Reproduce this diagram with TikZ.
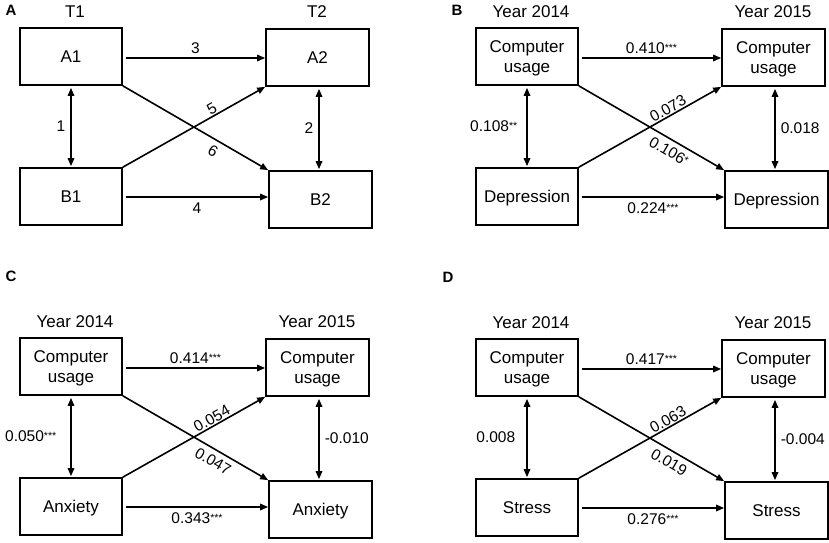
\documentclass[tikz,border=0pt]{standalone}
\usepackage{fontspec}
\setmainfont{Liberation Sans}
\usetikzlibrary{arrows.meta}
\newcommand\stars[1]{\raisebox{2pt}{\fontsize{10.5}{10}\selectfont #1}}
\newcommand\panel[3]{%
\begin{scope}[shift={(#2,#3)}]
 \node[title] (#1t1) at (75,12) {\tA};
 \node[title] (#1t2) at (317,12) {\tB};
 \node[box] (#1tl) at (71,56.5) {\nTL};
 \node[box,minimum width=103pt] (#1tr) at (317.5,57.5) {\nTR};
 \node[box] (#1bl) at (71,196.5) {\nBL};
 \node[box,minimum width=103pt] (#1br) at (320.5,199.5) {\nBR};
 \draw[arr] ([xshift=3pt,yshift=-1.5pt]#1tl.east) -- ([yshift=-1.5pt]#1tl.east -| #1tr.west)
   node[lab,midway,above=3pt] {\lTop};
 \draw[arr] ([xshift=3pt,yshift=-0.5pt]#1bl.east) -- ([yshift=-0.5pt]#1bl.east -| #1br.west)
   node[lab,midway,below=4pt] {\lBot};
 \draw[darr] (#1tl.south) -- (#1bl.north) node[lab,midway,lvl] {\lLeft};
 \draw[darr] ([xshift=1.5pt]#1tr.south) -- ([xshift=1.5pt]#1tr.south |- #1br.north) node[lab,midway,rvl] {\lRight};
 \draw[arr] (#1bl.north east) -- (#1tr.south west) node[lab,pos=0.65,sloped,above=0pt] {\lUp};
 \draw[arr] (#1tl.south east) -- (#1br.north west) node[lab,pos=0.66,sloped,below=4pt] {\lDown};
\end{scope}}
\begin{document}
\begin{tikzpicture}[x=1pt,y=-1pt,
  box/.style={draw, line width=1.7pt, minimum width=102pt, minimum height=57pt,
    inner sep=0pt, align=center, font=\fontsize{17}{20}\selectfont, text depth=-4pt},
  title/.style={font=\fontsize{17}{20}\selectfont, inner sep=0pt},
  lab/.style={font=\fontsize{15.5}{17}\selectfont, inner sep=1pt},
  letter/.style={font=\fontsize{15}{16}\selectfont\bfseries, inner sep=0pt},
  arr/.style={line width=1.6pt, -{Triangle[length=8pt,width=6.5pt]}},
  darr/.style={line width=1.6pt, {Triangle[length=8pt,width=6.5pt]}-{Triangle[length=8pt,width=6.5pt]}, shorten <=2pt, shorten >=1pt},
  lvl/.style={left=6pt}, rvl/.style={right=4pt}]
\useasboundingbox (0,0) rectangle (829,542);
\node[letter] (la) at (11,10) {A};
\node[letter] (lb) at (457,10) {B};
\node[letter] (lc) at (11,276) {C};
\node[letter] (ld) at (448,277) {D};
% Panel A
\begin{scope}[lvl/.style={left=4pt}, rvl/.style={left=4pt}]
\def\tA{T1}\def\tB{T2}\def\nTL{A1}\def\nTR{A2}\def\nBL{B1}\def\nBR{B2}
\def\lTop{3}\def\lBot{4}\def\lLeft{1}\def\lRight{2}\def\lUp{5}\def\lDown{6}
\panel{a}{0}{0}
\end{scope}
% Panel B
\begin{scope}[lvl/.style={left=8pt}]
\def\tA{Year 2014}\def\tB{Year 2015}\def\nTL{Computer\\usage}\def\nTR{Computer\\usage}
\def\nBL{Depression}\def\nBR{Depression}
\def\lTop{0.410\stars{***}}\def\lBot{0.224\stars{***}}\def\lLeft{0.108\stars{**}}
\def\lRight{0.018}\def\lUp{0.073}\def\lDown{0.106\stars{*}}
\panel{b}{456}{0}
\end{scope}
% Panel C
\begin{scope}[lvl/.style={left=13pt}]
\def\tA{Year 2014}\def\tB{Year 2015}\def\nTL{Computer\\usage}\def\nTR{Computer\\usage}
\def\nBL{Anxiety}\def\nBR{Anxiety}
\def\lTop{0.414\stars{***}}\def\lBot{0.343\stars{***}}\def\lLeft{0.050\stars{***}}
\def\lRight{-0.010}\def\lUp{0.054}\def\lDown{0.047}
\panel{c}{0}{310}
\end{scope}
% Panel D
\begin{scope}[lvl/.style={left=10pt}]
\def\tA{Year 2014}\def\tB{Year 2015}\def\nTL{Computer\\usage}\def\nTR{Computer\\usage}
\def\nBL{Stress}\def\nBR{Stress}
\def\lTop{0.417\stars{***}}\def\lBot{0.276\stars{***}}\def\lLeft{0.008}
\def\lRight{-0.004}\def\lUp{0.063}\def\lDown{0.019}
\panel{d}{456}{311}
\end{scope}
\end{tikzpicture}
\end{document}
